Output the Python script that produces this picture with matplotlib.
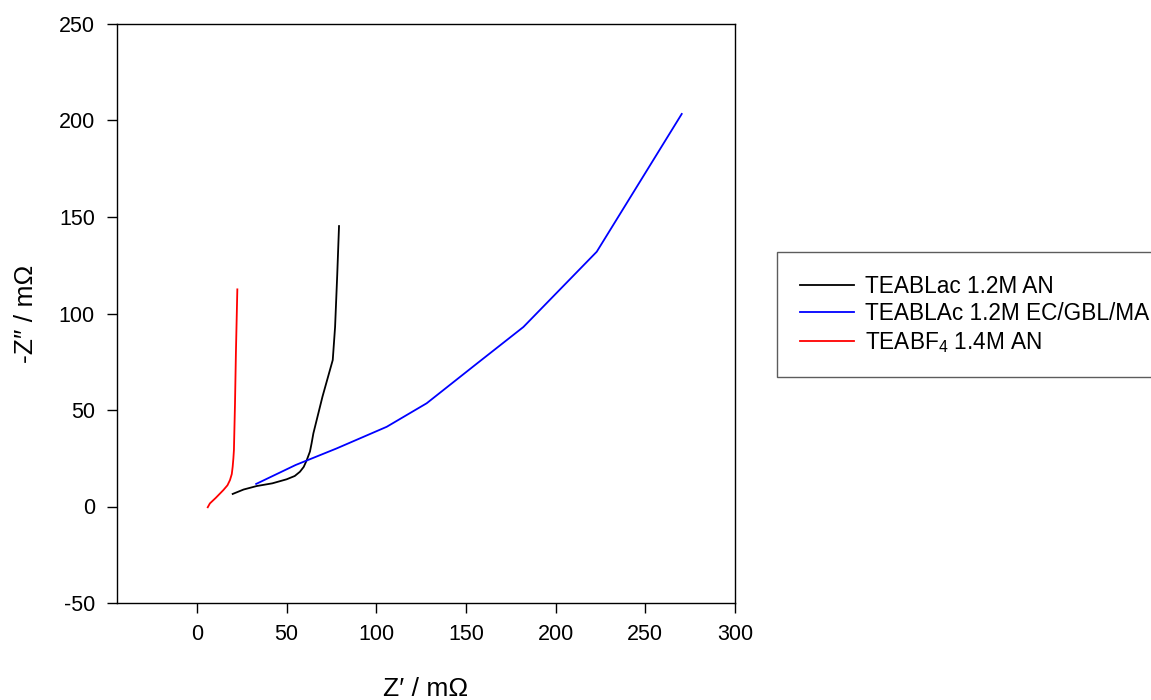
import matplotlib
matplotlib.use("Agg")
import matplotlib.pyplot as plt

plt.rcParams['font.family'] = ['Liberation Sans', 'DejaVu Sans']
plt.rcParams['mathtext.fontset'] = 'custom'
plt.rcParams['mathtext.rm'] = 'Liberation Sans'
plt.rcParams['mathtext.it'] = 'Liberation Sans:italic'
plt.rcParams['mathtext.bf'] = 'Liberation Sans:bold'
plt.rcParams['axes.unicode_minus'] = False

# TEABLac 1.2M AN (black)
lac_an_x = [19.9, 26.0, 33.3, 42.0, 50.0, 54.5, 57.4, 59.5, 61.2, 63.0, 63.9, 64.9, 70.0, 75.7, 77.0, 78.2, 79.2]
lac_an_y = [6.5, 8.8, 10.6, 12.0, 14.1, 15.8, 18.0, 20.5, 24.0, 28.5, 32.7, 37.9, 57.0, 75.9, 93.0, 120.0, 145.3]

# TEABLAc 1.2M EC/GBL/MA (blue)
lac_ec_x = [33.0, 55.0, 77.9, 105.8, 128.1, 156.0, 182.0, 222.9, 270.3]
lac_ec_y = [11.7, 21.5, 30.1, 41.3, 53.5, 74.0, 93.0, 132.0, 203.4]

# TEABF4 1.4M AN (red)
bf4_x = [6.0, 7.2, 10.5, 14.7, 17.0, 18.4, 19.4, 19.9, 20.3, 20.6, 21.2, 21.7, 22.5]
bf4_y = [-0.4, 1.6, 4.5, 8.5, 11.0, 13.7, 16.8, 20.6, 25.0, 29.3, 53.5, 79.4, 112.5]

labels = ['TEABLac 1.2M AN', 'TEABLAc 1.2M EC/GBL/MA', 'TEABF$_4$ 1.4M AN']
colors = ['black', 'blue', 'red']

fig = plt.figure(figsize=(11.51, 7.0), dpi=100)
ax = fig.add_axes([117/1151, 1 - 603/700, (735 - 117)/1151, (603 - 24)/700])

ax.plot(lac_an_x, lac_an_y, color=colors[0], lw=1.3, label=labels[0])
ax.plot(lac_ec_x, lac_ec_y, color=colors[1], lw=1.3, label=labels[1])
ax.plot(bf4_x, bf4_y, color=colors[2], lw=1.3, label=labels[2])

ax.set_xlim(-44.6, 300)
ax.set_ylim(-50, 250)
ax.set_xticks([0, 50, 100, 150, 200, 250, 300])
ax.set_yticks([-50, 0, 50, 100, 150, 200, 250])
ax.tick_params(direction='out', length=7, width=1, labelsize=15.5, colors='black')
ax.tick_params(axis='x', pad=8)
ax.tick_params(axis='y', pad=9)
for s in ax.spines.values():
    s.set_linewidth(1.0)

ax.set_xlabel('Z\u2032 / m\u03a9', fontsize=19, labelpad=23)
ax.set_ylabel('-Z\u2033 / m\u03a9', fontsize=19, labelpad=15)

leg = fig.legend(loc='upper left', bbox_to_anchor=(777/1151, 1 - 252/700),
                 fontsize=16.3, frameon=True, fancybox=False, edgecolor='#333333',
                 handlelength=2.4, handletextpad=0.5, borderpad=1.0,
                 labelspacing=0.2, borderaxespad=0)
leg.get_frame().set_linewidth(1.0)

fig.savefig('out.png', dpi=100)
